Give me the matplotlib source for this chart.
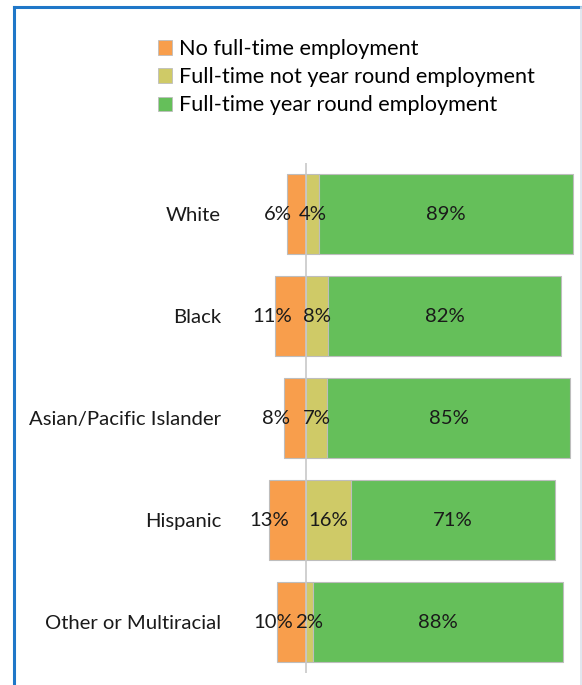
import matplotlib
matplotlib.use("Agg")
import matplotlib.pyplot as plt
from matplotlib.patches import Patch
from matplotlib.lines import Line2D

categories = ["White", "Black", "Asian/Pacific Islander", "Hispanic", "Other or Multiracial"]
no_fulltime = [6.6, 10.8, 7.7, 12.9, 10.1]
fulltime_not_year = [4.5, 7.7, 7.3, 15.7, 2.4]
fulltime_year = [88.5, 81.2, 84.7, 71.0, 87.0]
no_fulltime_lbl = ["6%", "11%", "8%", "13%", "10%"]
not_year_lbl = ["4%", "8%", "7%", "16%", "2%"]
year_lbl = ["89%", "82%", "85%", "71%", "88%"]
series_names = ["No full-time employment", "Full-time not year round employment",
                "Full-time year round employment"]

c_orange = "#F89E4C"
c_yellow = "#CFCA67"
c_green = "#65BF5A"
edge = "#BDBDBD"

plt.rcParams["font.family"] = ["Lato", "DejaVu Sans"]

W, H = 582, 685
fig = plt.figure(figsize=(W / 100, H / 100), dpi=100)

# axes placement in pixels
left_px, right_px, top_px, bot_px = 228, 578, 163, 673
ax = fig.add_axes([left_px / W, 1 - bot_px / H, (right_px - left_px) / W, (bot_px - top_px) / H])
ax.set_xlim(-27.2, 94.8)
ax.set_ylim(4.5, -0.5)

y = list(range(len(categories)))
h = 0.78
neg = [-v for v in no_fulltime]
ax.barh(y, neg, height=h, color=c_orange, edgecolor=edge, linewidth=0.8)
ax.barh(y, fulltime_not_year, height=h, color=c_yellow, edgecolor=edge, linewidth=0.8)
ax.barh(y, fulltime_year, left=fulltime_not_year, height=h, color=c_green, edgecolor=edge, linewidth=0.8)
ax.axvline(0, color="#C8C8C8", linewidth=1.2, zorder=5)

fs = 14.6
for i in y:
    ax.text(-no_fulltime[i] / 2 - 6.5, i, no_fulltime_lbl[i], ha="center", va="center", fontsize=fs, color="#1a1a1a", zorder=6)
    ax.text(fulltime_not_year[i] / 2, i, not_year_lbl[i], ha="center", va="center", fontsize=fs, color="#1a1a1a", zorder=6)
    ax.text(fulltime_not_year[i] + fulltime_year[i] / 2, i, year_lbl[i], ha="center", va="center", fontsize=fs, color="#1a1a1a", zorder=6)

ax.set_yticks(y)
ax.set_yticklabels(categories, fontsize=fs, color="#1a1a1a")
ax.tick_params(axis="y", length=0, pad=5)
ax.set_xticks([])
for s in ax.spines.values():
    s.set_visible(False)

handles = [Patch(facecolor=c, edgecolor=edge, linewidth=0.6) for c in (c_orange, c_yellow, c_green)]
fig.legend(handles, series_names, loc="upper left", bbox_to_anchor=(158 / W, 1 - 39 / H),
           frameon=False, fontsize=15.6, handlelength=0.65, handleheight=0.65,
           handletextpad=0.3, labelspacing=0.38, borderaxespad=0, borderpad=0)

# frame border
fig.add_artist(Line2D([13.5 / W, 13.5 / W], [0, 1 - 6.5 / H], transform=fig.transFigure, color="#1F77C8", linewidth=2.2))
fig.add_artist(Line2D([13.5 / W, 580 / W], [1 - 6.5 / H, 1 - 6.5 / H], transform=fig.transFigure, color="#1F77C8", linewidth=2.2))
fig.add_artist(Line2D([580.5 / W, 580.5 / W], [0, 1 - 7 / H], transform=fig.transFigure, color="#DCE3EC", linewidth=1.2))

fig.savefig("out.png", dpi=100)
